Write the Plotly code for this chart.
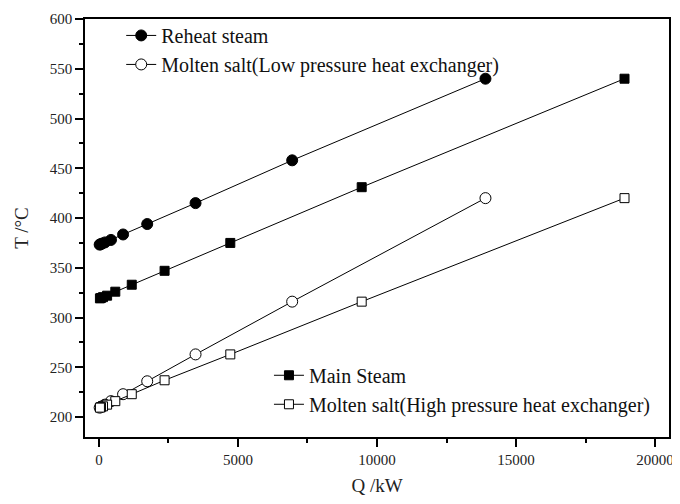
import plotly.graph_objects as go

# Low-pressure heat exchanger (reheat steam / molten salt)
q_low = [13900, 6950, 3475, 1737, 869, 434, 217, 109, 54, 27]
t_reheat = [540, 458, 415, 394, 383.5, 378, 375.5, 374.3, 373.6, 373.3]
t_salt_low = [420, 316, 263, 236, 223, 216, 212.5, 210.8, 210, 209.5]

# High-pressure heat exchanger (main steam / molten salt)
q_high = [18900, 9450, 4725, 2362, 1181, 590, 295, 148, 74, 37]
t_main = [540, 431, 375, 347, 333, 326, 322, 320.5, 319.7, 319.3]
t_salt_high = [420, 316, 263, 237, 223, 216, 212.5, 210.8, 210, 209.5]

x_ticks = [0, 5000, 10000, 15000, 20000]
y_ticks = [200, 250, 300, 350, 400, 450, 500, 550, 600]

FONT = "Liberation Serif, Times New Roman, serif"
black = "black"

fig = go.Figure()
fig.add_trace(go.Scatter(x=q_low, y=t_reheat, mode="lines+markers", name="Reheat steam",
                         line=dict(color=black, width=1),
                         marker=dict(symbol="circle", size=11, color=black, line=dict(color=black, width=1)),
                         legend="legend"))
fig.add_trace(go.Scatter(x=q_low, y=t_salt_low, mode="lines+markers",
                         name="Molten salt(Low pressure heat exchanger)",
                         line=dict(color=black, width=1),
                         marker=dict(symbol="circle", size=11, color="white", line=dict(color=black, width=1)),
                         legend="legend"))
fig.add_trace(go.Scatter(x=q_high, y=t_main, mode="lines+markers", name="Main Steam",
                         line=dict(color=black, width=1),
                         marker=dict(symbol="square", size=9, color=black, line=dict(color=black, width=1)),
                         legend="legend2"))
fig.add_trace(go.Scatter(x=q_high, y=t_salt_high, mode="lines+markers",
                         name="Molten salt(High pressure heat exchanger)",
                         line=dict(color=black, width=1),
                         marker=dict(symbol="square", size=9, color="white", line=dict(color=black, width=1)),
                         legend="legend2"))

axis_common = dict(showline=True, linecolor=black, linewidth=1.5, mirror=True, showgrid=False,
                   zeroline=False, ticks="outside", ticklen=8, tickwidth=1.5, tickcolor=black,
                   automargin=False,
                   tickfont=dict(family=FONT, size=15, color="#222"))

fig.update_xaxes(range=[-500, 20500], tickvals=x_ticks, ticktext=[str(v) for v in x_ticks],
                 title=dict(text="Q /kW", font=dict(family=FONT, size=19, color="#222"), standoff=12),
                 minor=dict(ticks="outside", ticklen=4, dtick=2500, tick0=0, tickcolor=black, tickwidth=1.5),
                 **axis_common)
fig.update_yaxes(range=[180, 600], tickvals=y_ticks, ticktext=[str(v) for v in y_ticks],
                 title=dict(text="T /°C", font=dict(family=FONT, size=19, color="#222"), standoff=16),
                 minor=dict(ticks="outside", ticklen=4, dtick=25, tick0=0, tickcolor=black, tickwidth=1.5),
                 **axis_common)

legend_style = dict(font=dict(family=FONT, size=20, color="#111"), bgcolor="rgba(0,0,0,0)",
                    borderwidth=0, tracegroupgap=0)
fig.update_layout(
    width=672, height=496,
    margin=dict(l=77, r=11, t=8, b=67),
    paper_bgcolor="white", plot_bgcolor="white",
    showlegend=True,
    legend=dict(x=0.062, y=0.926, xanchor="left", yanchor="middle", **legend_style),
    legend2=dict(x=0.315, y=0.113, xanchor="left", yanchor="middle", **legend_style),
)

fig.write_html("out.html")
